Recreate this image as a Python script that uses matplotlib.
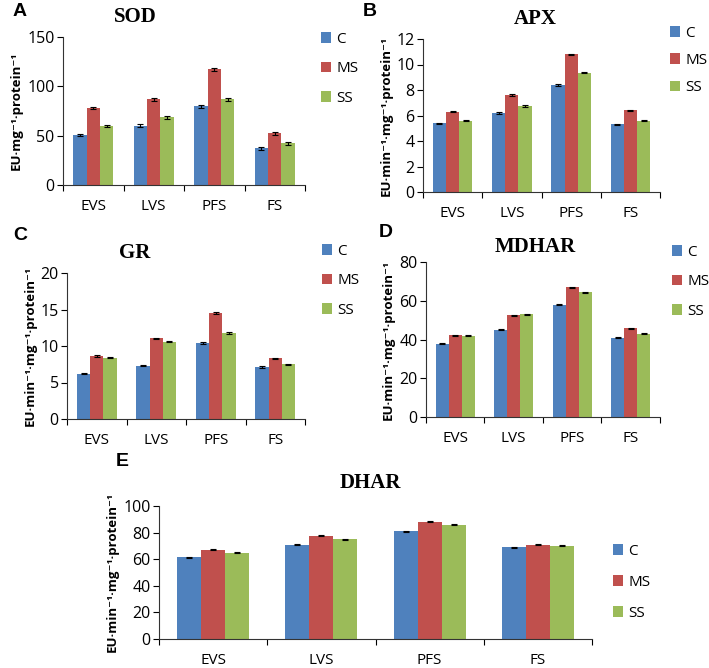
import numpy as np
import matplotlib
matplotlib.use("Agg")
from matplotlib import pyplot as plt

stages = ['EVS', 'LVS', 'PFS', 'FS']
groups = ['C', 'MS', 'SS']
colors = ['#4F81BD', '#C0504D', '#9BBB59']

sod_c = [51, 60, 80, 37]
sod_ms = [78, 87, 117.5, 52.5]
sod_ss = [60, 68.5, 87, 42.5]
sod_err = [1.0, 1.5, 1.5, 1.5]

apx_c = [5.4, 6.2, 8.4, 5.3]
apx_ms = [6.3, 7.6, 10.8, 6.4]
apx_ss = [5.6, 6.75, 9.35, 5.6]
apx_err = [0.05, 0.05, 0.05, 0.05]

gr_c = [6.2, 7.3, 10.4, 7.1]
gr_ms = [8.6, 11.05, 14.5, 8.3]
gr_ss = [8.4, 10.6, 11.8, 7.5]
gr_err = [0.1, 0.1, 0.1, 0.1]

mdhar_c = [37.8, 45.0, 58.0, 41.0]
mdhar_ms = [42.2, 52.5, 67.0, 45.8]
mdhar_ss = [42.0, 53.0, 64.3, 43.0]
mdhar_err = [0.3, 0.3, 0.3, 0.3]

dhar_c = [61.5, 71.0, 81.0, 69.0]
dhar_ms = [67.0, 77.5, 88.0, 71.0]
dhar_ss = [65.0, 75.0, 86.0, 70.0]
dhar_err = [0.4, 0.4, 0.4, 0.4]

W, H = 709, 668
fig = plt.figure(figsize=(W / 100, H / 100), dpi=100)

tick_font = ['Open Sans', 'DejaVu Sans']
lab_font = ['Open Sans', 'DejaVu Sans']


def px_axes(l, r, t, b):
    return fig.add_axes([l / W, 1 - b / H, (r - l) / W, (b - t) / H])


def panel(box, series, err, ymax, ystep, title, letter, ylabel,
          title_xy, letter_xy, leg_xy, leg_space):
    ax = px_axes(*box)
    x = np.arange(len(stages))
    bw = 1 / 4.5
    for k, (vals, col) in enumerate(zip(series, colors)):
        ax.bar(x + (k - 1) * bw, vals, bw, color=col, label=groups[k],
               yerr=err, error_kw=dict(ecolor='black', elinewidth=0.8,
                                       capsize=2.5, capthick=0.8))
    ax.set_xlim(-0.5, len(stages) - 0.5)
    ax.set_ylim(0, ymax)
    ax.set_yticks(np.arange(0, ymax + ystep / 2, ystep))
    ax.set_xticks(x)
    ax.set_xticklabels(stages, fontsize=11, family=tick_font)
    ax.set_xticks(np.arange(-0.5, len(stages)), minor=True)
    ax.tick_params(axis='x', which='major', length=0, pad=10)
    ax.tick_params(axis='x', which='minor', length=4, width=0.8, direction='out')
    ax.tick_params(axis='y', length=4, width=0.8, labelsize=11.5, pad=2)
    for lbl in ax.get_yticklabels():
        lbl.set_family(tick_font)
    for s in ['top', 'right']:
        ax.spines[s].set_visible(False)
    for s in ['left', 'bottom']:
        ax.spines[s].set_linewidth(0.8)
        ax.spines[s].set_color('#333333')
    ax.set_ylabel(ylabel, fontsize=9.5, fontweight='bold', family=lab_font,
                  labelpad=3)
    fig.text(title_xy[0] / W, 1 - title_xy[1] / H, title, ha='center',
             va='center', fontsize=15, fontweight='bold',
             family='Liberation Serif')
    fig.text(letter_xy[0] / W, 1 - letter_xy[1] / H, letter, ha='center',
             va='center', fontsize=14, fontweight='bold',
             family='Liberation Sans')
    ax.legend(loc='upper left', bbox_to_anchor=(leg_xy[0] / W, 1 - leg_xy[1] / H),
              bbox_transform=fig.transFigure, frameon=False,
              handlelength=0.7, handleheight=0.7, handletextpad=0.3,
              labelspacing=leg_space, prop=dict(family=tick_font, size=11))
    return ax


unit1 = 'EU·mg\u207b\u00b9·protein\u207b\u00b9'
unit2 = 'EU·min\u207b\u00b9·mg\u207b\u00b9·protein\u207b\u00b9'

panel((63, 305, 37, 185), [sod_c, sod_ms, sod_ss], sod_err, 150, 50,
      'SOD', 'A', unit1, (135, 17), (20, 12), (307, 18), 0.95)
panel((423, 660, 39, 192), [apx_c, apx_ms, apx_ss], apx_err, 12, 2,
      'APX', 'B', unit2, (535, 19), (370, 12), (656, 12), 0.8)
panel((67, 305, 273, 419), [gr_c, gr_ms, gr_ss], gr_err, 20, 5,
      'GR', 'C', unit2, (135, 253), (20, 236), (308, 230), 0.95)
panel((426, 660, 262, 417), [mdhar_c, mdhar_ms, mdhar_ss], mdhar_err, 80, 20,
      'MDHAR', 'D', unit2, (535, 247), (386, 232), (658, 231), 0.95)
panel((159, 592, 506, 639), [dhar_c, dhar_ms, dhar_ss], dhar_err, 100, 20,
      'DHAR', 'E', unit2, (370, 483), (122, 462), (599, 530), 1.05)

fig.savefig('out.png', dpi=100)
